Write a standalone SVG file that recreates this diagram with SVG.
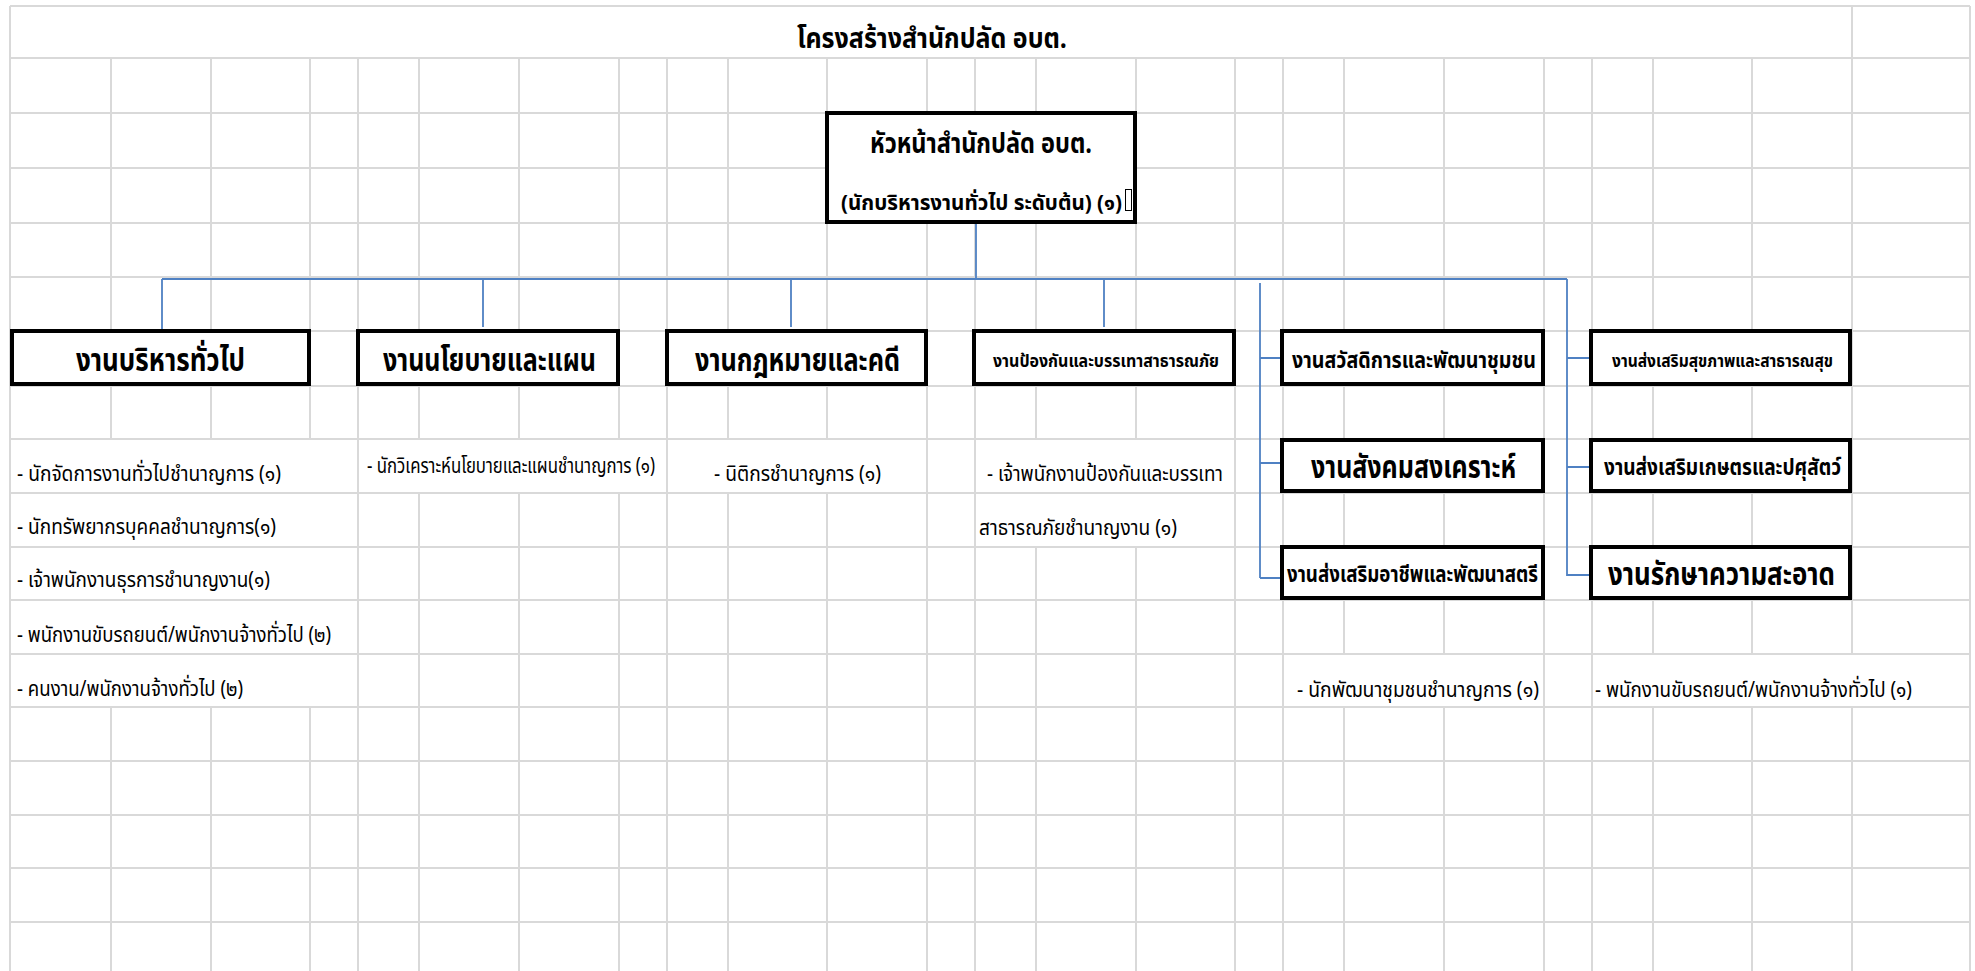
<svg xmlns="http://www.w3.org/2000/svg" width="1975" height="971" viewBox="0 0 1975 971">
<style>
.g{stroke:#d9d9d9;stroke-width:2;fill:none}
.box{fill:#fff;stroke:#000;stroke-width:4}
.c{stroke:#4f81c3;stroke-width:1.8;fill:none}
text{font-family:"Noto Sans Thai","Noto Sans","DejaVu Sans",sans-serif;fill:#000}
.b{font-weight:bold}
.big{font-size:31px}
.mid{font-size:23px}
.sm{font-size:17px}
.r{font-size:22px}
</style>
<rect x="0" y="0" width="1975" height="971" fill="#fff"/>
<g id="grid">
<path class="g" d="M10 6H1970M10 58H1970M10 113H1970M10 168H1970M10 223H1970M10 277H1970M10 331H1970M10 386H1970M10 439H1970M10 493H1970M10 547H1970M10 600H1970M10 654H1970M10 707H1970M10 761H1970M10 815H1970M10 868H1970M10 922H1970"/>
<path class="g" d="M10 6V971M1970 6V971M1852 6V654M1852 707V971"/>
<path class="g" d="M111 58V439M111 707V971M211 58V439M211 707V971M310 58V439M310 707V971"/>
<path class="g" d="M419 58V439M419 493V971M519 58V439M519 493V971M619 58V439M619 493V971M728 58V439M728 493V971M827 58V439M827 493V971"/>
<path class="g" d="M1036 58V439M1036 547V971M1136 58V439M1136 547V971"/>
<path class="g" d="M1344 58V654M1344 707V971M1444 58V654M1444 707V971M1653 58V654M1653 707V971M1752 58V654M1752 707V971"/>
<path class="g" d="M358 58V971M667 58V971M927 58V971M975 58V971M1235 58V971M1283 58V971M1544 58V971M1592 58V971"/>
</g>
<g id="title">
<text class="b" x="797" y="48" font-size="29" textLength="270" lengthAdjust="spacingAndGlyphs">โครงสร้างสำนักปลัด อบต.</text>
</g>
<g id="connectors">
<path class="c" d="M976 224V279M162 279H1567M162 279V329M483 279V327M791 279V327M1104 279V327"/>
<path class="c" d="M1260 283V578M1260 358H1281M1260 463H1281M1260 578H1281"/>
<path class="c" d="M1567 279V576M1567 358H1590M1567 467H1590M1567 575H1590"/>
</g>
<g id="head">
<rect class="box" x="827" y="113" width="308" height="109"/>
<text class="b" x="870" y="153" font-size="28" textLength="222" lengthAdjust="spacingAndGlyphs">หัวหน้าสำนักปลัด อบต.</text>
<text class="b" x="841" y="210" font-size="21" textLength="281" lengthAdjust="spacingAndGlyphs">(นักบริหารงานทั่วไป ระดับต้น) (๑)</text>
<rect x="1125.5" y="189.5" width="6" height="21" fill="none" stroke="#000" stroke-width="1"/>
</g>
<g id="n1"><rect class="box" x="12" y="331" width="297" height="53"/><text class="b big" x="76" y="371" textLength="169" lengthAdjust="spacingAndGlyphs">งานบริหารทั่วไป</text></g>
<g id="n2"><rect class="box" x="358" y="331" width="260" height="53"/><text class="b big" x="383" y="371" textLength="213" lengthAdjust="spacingAndGlyphs">งานนโยบายและแผน</text></g>
<g id="n3"><rect class="box" x="667" y="331" width="259" height="53"/><text class="b big" x="695" y="371" textLength="205" lengthAdjust="spacingAndGlyphs">งานกฎหมายและคดี</text></g>
<g id="n4"><rect class="box" x="974" y="331" width="260" height="53"/><text class="b sm" x="993" y="367" textLength="226" lengthAdjust="spacingAndGlyphs">งานป้องกันและบรรเทาสาธารณภัย</text></g>
<g id="n5"><rect class="box" x="1282" y="331" width="261" height="53"/><text class="b mid" x="1292" y="368" textLength="244" lengthAdjust="spacingAndGlyphs">งานสวัสดิการและพัฒนาชุมชน</text></g>
<g id="n6"><rect class="box" x="1591" y="331" width="259" height="53"/><text class="b sm" x="1612" y="367" textLength="221" lengthAdjust="spacingAndGlyphs">งานส่งเสริมสุขภาพและสาธารณสุข</text></g>
<g id="n7"><rect class="box" x="1282" y="440" width="261" height="51"/><text class="b big" x="1311" y="478" textLength="205" lengthAdjust="spacingAndGlyphs">งานสังคมสงเคราะห์</text></g>
<g id="n8"><rect class="box" x="1591" y="440" width="259" height="51"/><text class="b mid" x="1604" y="475" textLength="237" lengthAdjust="spacingAndGlyphs">งานส่งเสริมเกษตรและปศุสัตว์</text></g>
<g id="n9"><rect class="box" x="1282" y="547" width="261" height="51"/><text class="b mid" x="1287" y="582" textLength="251" lengthAdjust="spacingAndGlyphs">งานส่งเสริมอาชีพและพัฒนาสตรี</text></g>
<g id="n10"><rect class="box" x="1591" y="547" width="259" height="51"/><text class="b big" x="1608" y="585" textLength="227" lengthAdjust="spacingAndGlyphs">งานรักษาความสะอาด</text></g>
<g id="staff">
<text class="r" x="17" y="481" textLength="264" lengthAdjust="spacingAndGlyphs">- นักจัดการงานทั่วไปชำนาญการ (๑)</text>
<text class="r" x="17" y="534" textLength="259" lengthAdjust="spacingAndGlyphs">- นักทรัพยากรบุคคลชำนาญการ(๑)</text>
<text class="r" x="17" y="587" textLength="253" lengthAdjust="spacingAndGlyphs">- เจ้าพนักงานธุรการชำนาญงาน(๑)</text>
<text class="r" x="17" y="642" textLength="314" lengthAdjust="spacingAndGlyphs">- พนักงานขับรถยนต์/พนักงานจ้างทั่วไป (๒)</text>
<text class="r" x="17" y="696" textLength="226" lengthAdjust="spacingAndGlyphs">- คนงาน/พนักงานจ้างทั่วไป (๒)</text>
<text class="r" x="367" y="473" textLength="288" lengthAdjust="spacingAndGlyphs">- นักวิเคราะห์นโยบายและแผนชำนาญการ (๑)</text>
<text class="r" x="714" y="481" textLength="167" lengthAdjust="spacingAndGlyphs">- นิติกรชำนาญการ (๑)</text>
<text class="r" x="987" y="481" textLength="236" lengthAdjust="spacingAndGlyphs">- เจ้าพนักงานป้องกันและบรรเทา</text>
<text class="r" x="979" y="535" textLength="198" lengthAdjust="spacingAndGlyphs">สาธารณภัยชำนาญงาน (๑)</text>
<text class="r" x="1297" y="697" textLength="242" lengthAdjust="spacingAndGlyphs">- นักพัฒนาชุมชนชำนาญการ (๑)</text>
<text class="r" x="1595" y="697" textLength="317" lengthAdjust="spacingAndGlyphs">- พนักงานขับรถยนต์/พนักงานจ้างทั่วไป (๑)</text>
</g>
</svg>
